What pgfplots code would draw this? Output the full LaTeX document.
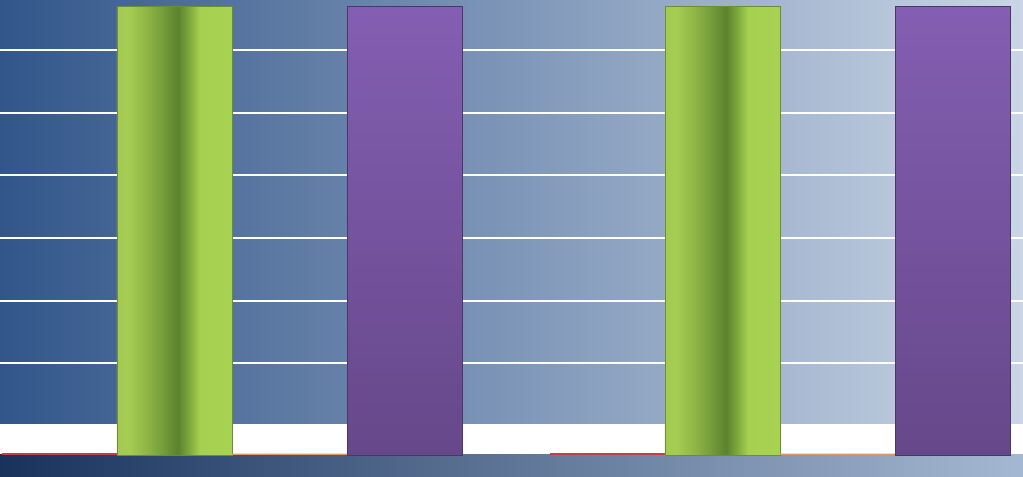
\documentclass[border=0pt]{standalone}
\usepackage{pgfplots}
\pgfplotsset{compat=1.18}

\definecolor{bgLeft}{RGB}{50,86,138}
\definecolor{bgRight}{RGB}{202,214,230}
\definecolor{stripLeft}{RGB}{24,50,92}
\definecolor{stripRight}{RGB}{165,184,210}
\definecolor{puTop}{RGB}{132,94,178}
\definecolor{puBot}{RGB}{102,72,138}
\definecolor{redBar}{RGB}{200,60,70}
\definecolor{orBar}{RGB}{225,150,100}
\definecolor{grEdge}{RGB}{110,140,55}

% green cylinder-like shading; the bar spans 25bp..75bp of the shading
\pgfdeclarehorizontalshading{greenbar}{100bp}{
  rgb(0bp)=(0.667,0.816,0.333);
  rgb(25bp)=(0.640,0.790,0.320);
  rgb(30bp)=(0.647,0.800,0.322);
  rgb(38bp)=(0.560,0.710,0.275);
  rgb(46bp)=(0.440,0.600,0.220);
  rgb(51.5bp)=(0.360,0.510,0.180);
  rgb(56bp)=(0.480,0.650,0.235);
  rgb(61bp)=(0.647,0.816,0.314);
  rgb(75bp)=(0.659,0.824,0.322);
  rgb(100bp)=(0.659,0.824,0.322)}

\pgfplotsset{
  greenbar/.style={draw=grEdge, line width=0.4pt,
    shading=greenbar, bar shift=-0.1050},
}

\begin{document}
\begin{tikzpicture}
\begin{axis}[
    set layers,
    width=1023pt, height=476pt, scale only axis,
    xmin=-0.4234, xmax=1.4434,
    ymin=-0.335, ymax=7.257,
    axis line style={draw=none},
    tick style={draw=none},
    xtick=\empty,
    ytick={1.46,2.46,3.46,4.46,5.46,6.46},
    yticklabels={},
    yticklabel style={overlay},
    major tick length=0pt,
    ymajorgrids,
    grid style={white, line width=2pt},
    ybar, bar width=0.2099,
    axis background/.style={left color=bgLeft, right color=bgRight},
]
\begin{pgfonlayer}{axis background}
  \fill[white] (axis cs:-0.4234,0) rectangle (axis cs:1.4434,0.494);
  \shade[left color=stripLeft, right color=stripRight]
    (axis cs:-0.4234,-0.335) rectangle (axis cs:1.4434,0);
\end{pgfonlayer}

% red (near zero)
\addplot[draw=none, fill=redBar, bar shift=-0.3148] coordinates {(0,0.03) (1,0.03)};
% green, one plot per bar so each gets its own shading
\addplot[greenbar] coordinates {(0,7.16)};
\addplot[greenbar] coordinates {(1,7.16)};
% orange (near zero)
\addplot[draw=none, fill=orBar, bar shift=0.1050] coordinates {(0,0.02) (1,0.02)};
% purple
\addplot[draw=puBot!75!black, line width=0.4pt, top color=puTop, bottom color=puBot, bar shift=0.3148] coordinates {(0,7.16) (1,7.16)};
\end{axis}
\pgfresetboundingbox
\path (current axis.south west) rectangle (current axis.north east);
\end{tikzpicture}
\end{document}
